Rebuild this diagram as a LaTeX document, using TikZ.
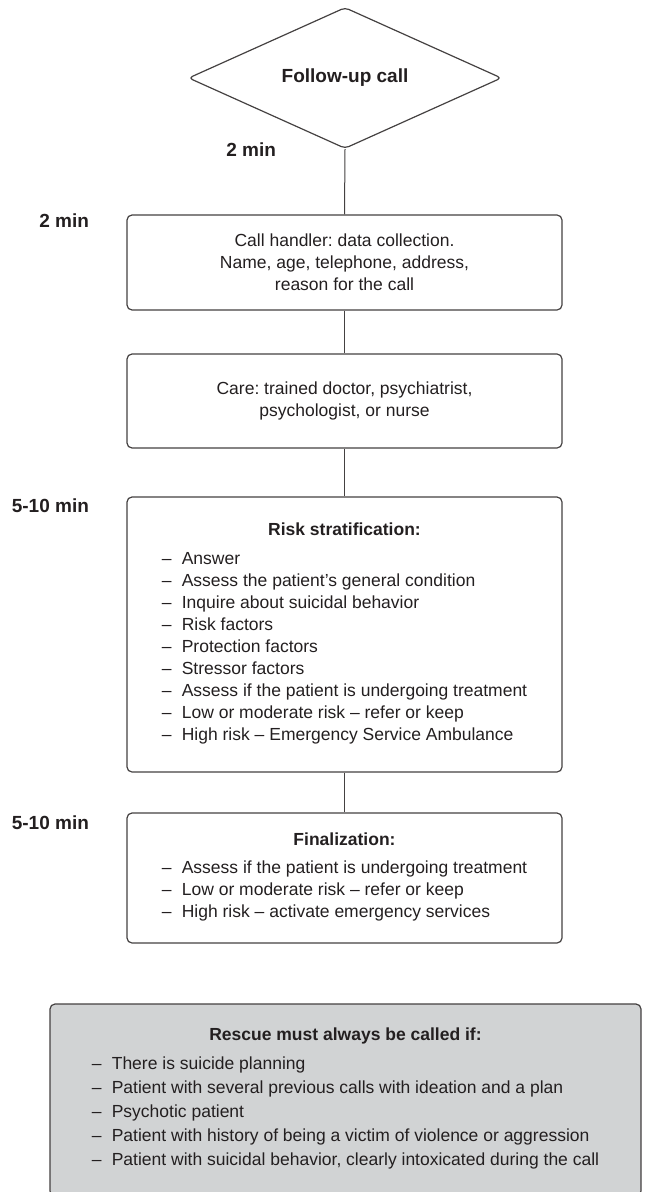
\documentclass[tikz,border=0pt]{standalone}
\usepackage{fontspec}
\setmainfont{Liberation Sans}
\usetikzlibrary{shapes.geometric}
\definecolor{ink}{HTML}{231F20}
\definecolor{panel}{HTML}{D1D3D4}
\newcommand{\itm}[1]{\makebox[10pt][l]{\textendash}#1}
\frenchspacing

\begin{document}
\begin{tikzpicture}[x=0.5pt,y=-0.5pt]
    \tikzstyle{every node}=[text=ink, font=\fontsize{8.75}{11}\selectfont]
    \tikzstyle{stepbox}=[draw=ink!85, line width=0.6pt, rounded corners=2.5pt, minimum width=217.5pt, align=center, inner sep=0pt]
    \tikzstyle{timing}=[anchor=east, font=\fontsize{9.5}{11}\selectfont\bfseries]
    \tikzstyle{link}=[draw=ink!85, line width=0.5pt]
    \useasboundingbox (0,0) rectangle (647,1192);
    \clip (0,0) rectangle (647,1192);

    \node[diamond, draw=ink!85, line width=0.6pt, aspect=2.2, minimum width=156.5pt, minimum height=70.5pt, inner sep=0pt, rounded corners=2pt, font=\fontsize{9.5}{11}\selectfont\bfseries] (call) at (345,78) {Follow-up call};
    \node[stepbox, minimum height=47.5pt] (handler) at (344.5,262.5) {Call handler: data collection.\\Name, age, telephone, address,\\reason for the call};
    \node[stepbox, minimum height=47pt] (care) at (344.5,401) {Care: trained doctor, psychiatrist,\\psychologist, or nurse};
    \node[stepbox, minimum height=137.5pt] (risk) at (344.5,634.5) {\textbf{Risk stratification:}\\[3.5pt]\begin{tabular}[t]{@{}l@{}}
        \itm{Answer}\\
        \itm{Assess the patient’s general condition}\\
        \itm{Inquire about suicidal behavior}\\
        \itm{Risk factors}\\
        \itm{Protection factors}\\
        \itm{Stressor factors}\\
        \itm{Assess if the patient is undergoing treatment}\\
        \itm{Low or moderate risk \textendash\ refer or keep}\\
        \itm{High risk \textendash\ Emergency Service Ambulance}
    \end{tabular}};
    \node[stepbox, minimum height=65pt] (final) at (344.5,878) {\textbf{Finalization:}\\[3pt]\begin{tabular}[t]{@{}l@{}}
        \itm{Assess if the patient is undergoing treatment}\\
        \itm{Low or moderate risk \textendash\ refer or keep}\\
        \itm{High risk \textendash\ activate emergency services}
    \end{tabular}};
    \node[stepbox, fill=panel, minimum width=295.5pt, minimum height=96pt, font=\fontsize{8.75}{12}\selectfont] (rescue) at (345.5,1100) {\textbf{Rescue must always be called if:}\\[2.5pt]\begin{tabular}[t]{@{}l@{}}
        \itm{There is suicide planning}\\
        \itm{Patient with several previous calls with ideation and a plan}\\
        \itm{Psychotic patient}\\
        \itm{Patient with history of being a victim of violence or aggression}\\
        \itm{Patient with suicidal behavior, clearly intoxicated during the call}
    \end{tabular}};

    \node[timing] (t1) at (283,150) {2 min};
    \node[timing] (t2) at (96,221) {2 min};
    \node[timing] (t3) at (96,506) {5-10 min};
    \node[timing] (t4) at (96,823) {5-10 min};

    \draw[link] (call.south) -- (handler.north);
    \draw[link] (handler.south) -- (care.north);
    \draw[link] (care.south) -- (risk.north);
    \draw[link] (risk.south) -- (final.north);
\end{tikzpicture}
\end{document}
